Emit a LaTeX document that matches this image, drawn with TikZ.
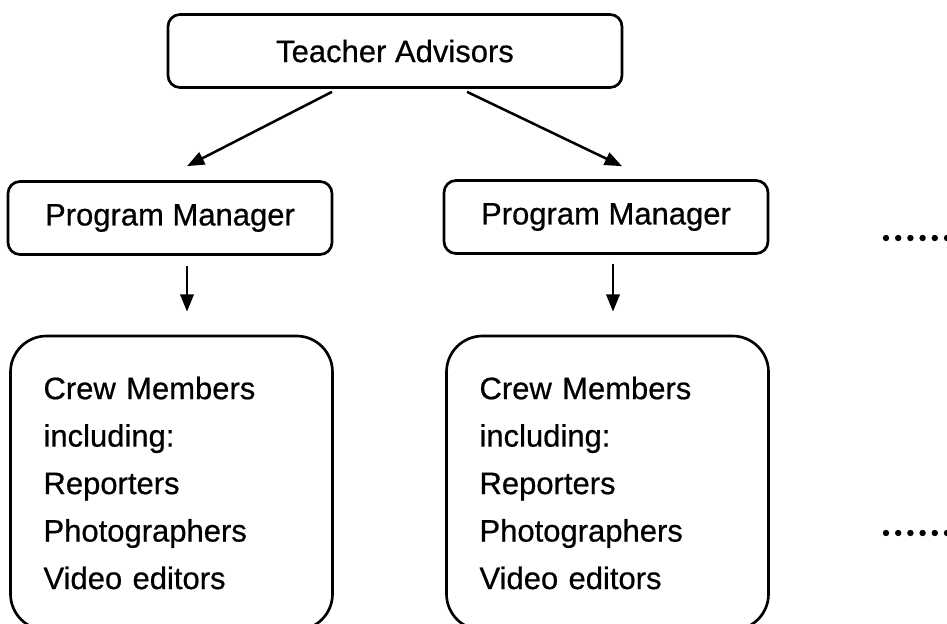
\documentclass[tikz,border=0pt]{standalone}
\usepackage{fontspec}
\setmainfont{Liberation Sans}[FakeBold=0.6]
\usetikzlibrary{arrows.meta,calc}
\begin{document}
\begin{tikzpicture}[x=0.75pt,y=-0.75pt,
  font=\fontsize{23.25pt}{35.6pt}\selectfont,
  box/.style={draw, line width=2pt, rounded corners=9pt, inner sep=0pt},
  crewbox/.style={draw, line width=2pt, rounded corners=27pt, inner xsep=24.75pt, inner ysep=0pt,
     text width=192pt, align=left, minimum height=220.5pt},
  conn/.style={line width=1.9pt, -{Triangle[length=13pt,width=10pt]}}]
\useasboundingbox (0,0) rectangle (947,624);
\begin{scope}
\clip (0,0) rectangle (947,624);
\node[box, minimum width=340.5pt, minimum height=54.75pt] (TA) at (395,51) {Teacher Advisors};
\node[box, minimum width=243pt, minimum height=54.75pt] (PM1) at (170,218) {Program Manager};
\node[box, minimum width=243pt, minimum height=54.75pt] (PM2) at (606,217) {Program Manager};
\node[crewbox] (CM1) at (171.5,483) {Crew Members\\including:\\Reporters\\Photographers\\Video editors};
\node[crewbox] (CM2) at (607.5,483) {Crew Members\\including:\\Reporters\\Photographers\\Video editors};
\draw[conn] ($(TA.south)+(-63,3)$) -- ($(PM1.north)+(17,-14)$);
\draw[conn] ($(TA.south)+(72,3)$) -- ($(PM2.north)+(16,-13)$);
\draw[conn] ($(PM1.south)+(17,10)$) -- ($(CM1.north)+(15.5,-23)$);
\draw[conn] ($(PM2.south)+(7,9)$) -- ($(CM2.north)+(5.5,-23)$);
\foreach \i in {0,...,5} {
  \fill (886+12.2*\i,238) circle (2.4pt);
  \fill (886+12.2*\i,533) circle (2.4pt);
}
\end{scope}
\end{tikzpicture}
\end{document}
